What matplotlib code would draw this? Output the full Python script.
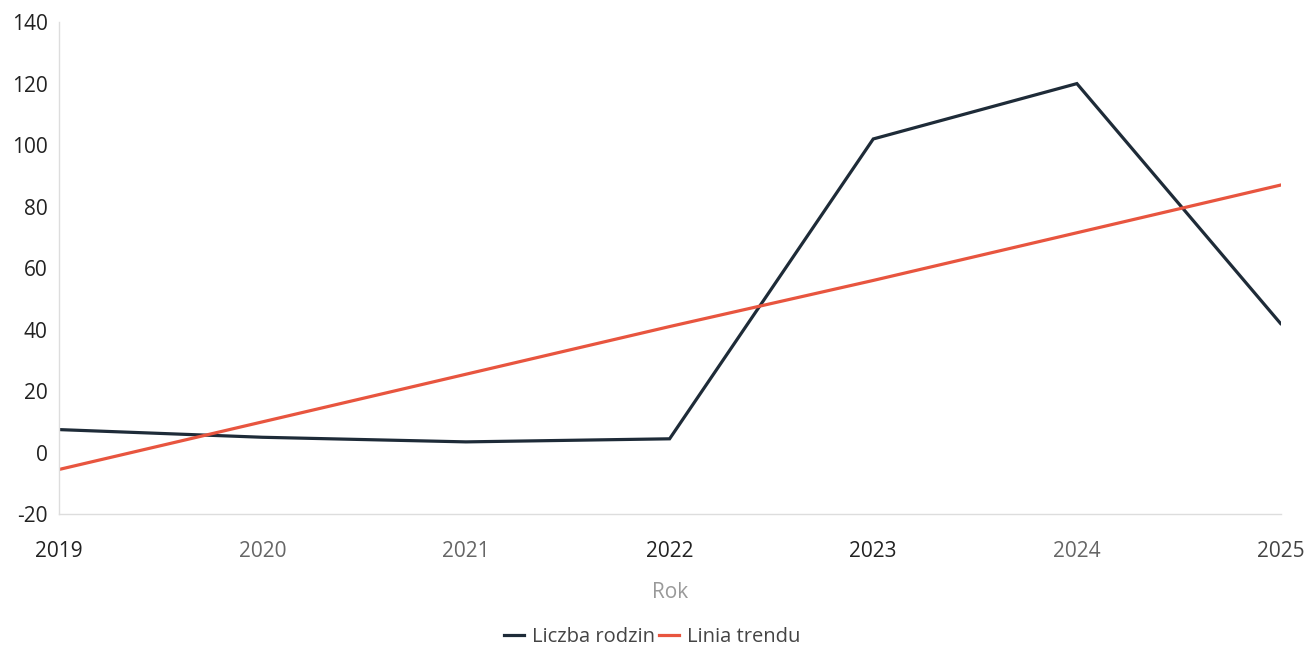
import matplotlib.pyplot as plt

plt.rcParams['font.family'] = ['Open Sans', 'DejaVu Sans']
plt.rcParams['axes.unicode_minus'] = False

# data
years = [2019, 2020, 2021, 2022, 2023, 2024, 2025]
families = [7.5, 5, 3.5, 4.5, 102, 120, 42]
trend = [-5.5, 10, 25.5, 41, 56, 71.5, 87]
year_colors = ['#222222', '#666666', '#666666', '#222222', '#222222', '#666666', '#444444']
y_ticks = [-20, 0, 20, 40, 60, 80, 100, 120, 140]

fig = plt.figure(figsize=(13.04, 6.5), dpi=100)
ax = fig.add_axes([0.045, 0.209, 0.937, 0.757])

ax.plot(years, families, color='#1e2b38', lw=2.3, label='Liczba rodzin', solid_joinstyle='miter')
ax.plot(years, trend, color='#e8553f', lw=2.3, label='Linia trendu')

ax.set_xlim(2019, 2025)
ax.set_ylim(-20, 140)
ax.set_yticks(y_ticks)
ax.set_xticks(years)
ax.set_xticklabels([str(y) for y in years])
for lbl, c in zip(ax.get_xticklabels(), year_colors):
    lbl.set_color(c)

ax.tick_params(axis='both', length=0, labelsize=15)
ax.tick_params(axis='y', pad=8, labelcolor='#222222')
ax.tick_params(axis='x', pad=19)

for s in ['top', 'right']:
    ax.spines[s].set_visible(False)
for s in ['left', 'bottom']:
    ax.spines[s].set_color('#dddddd')
    ax.spines[s].set_linewidth(1)

ax.set_xlabel('Rok', fontsize=15, color='#999999', labelpad=15)

fig.legend(loc='center', bbox_to_anchor=(0.5, 1 - 637 / 650), ncol=2, frameon=False,
           fontsize=14.5, handlelength=1.0, handletextpad=0.4, columnspacing=0.2,
           labelcolor='#444444')

fig.savefig('out.png', dpi=100)
